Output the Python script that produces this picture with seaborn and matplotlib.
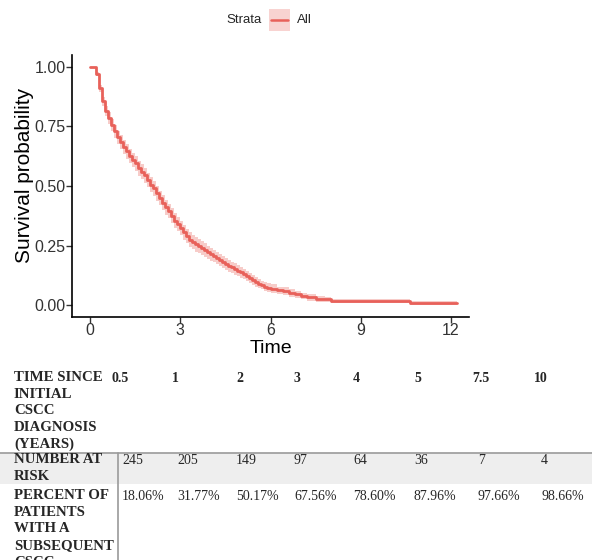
import pandas as pd
import numpy as np
import matplotlib
matplotlib.use("Agg")
import matplotlib.pyplot as plt
import seaborn as sns
from matplotlib.patches import Rectangle
from matplotlib.lines import Line2D

# Kaplan-Meier estimate (years, survival, 95% CI)
times = [0, 0.2, 0.3, 0.4, 0.5, 0.6, 0.7, 0.8, 0.9, 1.0, 1.1, 1.2, 1.3, 1.4, 1.5,
         1.6, 1.7, 1.8, 1.9, 2.0, 2.1, 2.2, 2.3, 2.4, 2.5, 2.6, 2.7, 2.8, 2.9,
         3.0, 3.1, 3.2, 3.3, 3.4, 3.5, 3.6, 3.7, 3.8, 3.9, 4.0, 4.1, 4.2, 4.3,
         4.4, 4.5, 4.6, 4.7, 4.8, 4.9, 5.0, 5.1, 5.2, 5.3, 5.4, 5.5, 5.6, 5.7,
         5.8, 5.9, 6.0, 6.2, 6.4, 6.6, 6.8, 7.0, 7.2, 7.5, 7.8, 8.0, 10.65, 12.2]
surv = [1.0, 0.97, 0.91, 0.855, 0.815, 0.785, 0.755, 0.73, 0.705, 0.685, 0.665,
        0.645, 0.625, 0.61, 0.595, 0.575, 0.56, 0.545, 0.525, 0.505, 0.49, 0.47,
        0.45, 0.43, 0.41, 0.395, 0.375, 0.355, 0.34, 0.325, 0.305, 0.29, 0.275,
        0.265, 0.255, 0.248, 0.24, 0.232, 0.222, 0.213, 0.205, 0.197, 0.19,
        0.182, 0.172, 0.165, 0.158, 0.151, 0.145, 0.138, 0.13, 0.122, 0.113,
        0.105, 0.098, 0.09, 0.084, 0.078, 0.073, 0.069, 0.062, 0.059, 0.052,
        0.045, 0.038, 0.032, 0.027, 0.024, 0.017, 0.01, 0.01]
lower = [1.0, 0.962, 0.895, 0.835, 0.793, 0.761, 0.729, 0.703, 0.677, 0.656, 0.635,
         0.615, 0.595, 0.58, 0.565, 0.544, 0.529, 0.514, 0.494, 0.474, 0.459,
         0.439, 0.419, 0.399, 0.379, 0.364, 0.344, 0.324, 0.31, 0.295, 0.275,
         0.26, 0.245, 0.235, 0.225, 0.22, 0.212, 0.204, 0.194, 0.185, 0.179,
         0.171, 0.164, 0.156, 0.146, 0.141, 0.134, 0.127, 0.121, 0.114, 0.109,
         0.101, 0.092, 0.084, 0.077, 0.072, 0.066, 0.06, 0.055, 0.051, 0.046,
         0.043, 0.036, 0.031, 0.024, 0.018, 0.015, 0.012, 0.007, 0.002, 0.002]
upper = [1.0, 0.978, 0.925, 0.875, 0.837, 0.809, 0.781, 0.757, 0.733, 0.714, 0.695,
         0.675, 0.655, 0.64, 0.625, 0.606, 0.591, 0.576, 0.556, 0.536, 0.521,
         0.501, 0.481, 0.461, 0.441, 0.426, 0.406, 0.386, 0.37, 0.355, 0.335,
         0.32, 0.305, 0.295, 0.285, 0.276, 0.268, 0.26, 0.25, 0.241, 0.231,
         0.223, 0.216, 0.208, 0.198, 0.189, 0.182, 0.175, 0.169, 0.162, 0.151,
         0.143, 0.134, 0.126, 0.119, 0.108, 0.102, 0.096, 0.091, 0.087, 0.078,
         0.075, 0.068, 0.059, 0.052, 0.046, 0.039, 0.036, 0.027, 0.018, 0.018]

# table under the plot
table_years = ["0.5", "1", "2", "3", "4", "5", "7.5", "10"]
at_risk = ["245", "205", "149", "97", "64", "36", "7", "4"]
pct_subsequent = ["18.06%", "31.77%", "50.17%", "67.56%", "78.60%", "87.96%",
                  "97.66%", "98.66%"]
row_labels = ["TIME SINCE\nINITIAL\nCSCC\nDIAGNOSIS\n(YEARS)",
              "NUMBER AT\nRISK",
              "PERCENT OF\nPATIENTS\nWITH A\nSUBSEQUENT\nCSCC"]

LINE = "#E8615A"
FILL = "#F4B7B3"
W, H = 592, 560

sns.set_theme(style="white")
plt.rcParams["font.family"] = ["Liberation Sans", "DejaVu Sans"]

df = pd.DataFrame({"time": times, "surv": surv, "lower": lower, "upper": upper})

fig = plt.figure(figsize=(W / 100, H / 100), dpi=100)
ax = fig.add_axes([72 / W, 1 - 317 / H, 397 / W, 262 / H])

ax.fill_between(df["time"], df["lower"], df["upper"], step="post",
                color=FILL, alpha=0.7, linewidth=0)
sns.lineplot(data=df, x="time", y="surv", ax=ax, color=LINE, linewidth=2,
             drawstyle="steps-post", estimator=None)

ax.set_xlim(-0.6, 12.6)
ax.set_ylim(-0.05, 1.05)
ax.set_xticks([0, 3, 6, 9, 12])
ax.set_yticks([0, 0.25, 0.5, 0.75, 1.0])
ax.set_yticklabels(["0.00", "0.25", "0.50", "0.75", "1.00"])
ax.set_xlabel("Time", fontsize=14, color="black", labelpad=1)
ax.set_ylabel("Survival probability", fontsize=15, color="black")
ax.yaxis.set_label_coords(-0.095, 0.54)
ax.tick_params(axis="both", labelsize=11.5, labelcolor="#333333", length=4,
               width=1, color="#333333", direction="out", bottom=True, left=True, pad=0.5)
for side in ["top", "right"]:
    ax.spines[side].set_visible(False)
for side in ["left", "bottom"]:
    ax.spines[side].set_color("black")
    ax.spines[side].set_linewidth(1.2)

# legend on top
fig.text(262 / W, 1 - 20 / H, "Strata", ha="right", va="center", fontsize=9.5)
fig.add_artist(Rectangle((269 / W, 1 - 31 / H), 21 / W, 22 / H,
                         transform=fig.transFigure, color=FILL, alpha=0.6, lw=0))
fig.add_artist(Line2D([271 / W, 288 / W], [1 - 20 / H, 1 - 20 / H],
                      transform=fig.transFigure, color=LINE, lw=1.8))
fig.text(297 / W, 1 - 20 / H, "All", ha="left", va="center", fontsize=9.5)

# table
fig.add_artist(Rectangle((0, 1 - 484 / H), 1, 31 / H, transform=fig.transFigure,
                         color="#EEEEEE", lw=0, zorder=0))
fig.add_artist(Line2D([0, 1], [1 - 453 / H, 1 - 453 / H], transform=fig.transFigure,
                      color="#9A9A9A", lw=1.2))
fig.add_artist(Line2D([118 / W, 118 / W], [1 - 453 / H, 0], transform=fig.transFigure,
                      color="#9A9A9A", lw=1.2))

serif = ["Liberation Serif", "DejaVu Serif"]
row_tops = [371, 453, 489]
head_x = [112, 172, 236, 294, 353, 414, 472, 534]
col_x = [122, 177, 236, 294, 353, 414, 478, 541]
for label, top in zip(row_labels, row_tops):
    fig.text(14 / W, 1 - top / H, label, ha="left", va="top", fontsize=10.7,
             family=serif, weight="bold", linespacing=1.37)
for values, xs, top, wt in [(table_years, head_x, row_tops[0], "bold"),
                            (at_risk, col_x, row_tops[1], "normal"),
                            (pct_subsequent, col_x, row_tops[2], "normal")]:
    for x, v in zip(xs, values):
        fig.text(x / W, 1 - (top + 1) / H, v, ha="left", va="top", fontsize=10,
                 family=serif, weight=wt)

fig.savefig("out.png", dpi=100)
